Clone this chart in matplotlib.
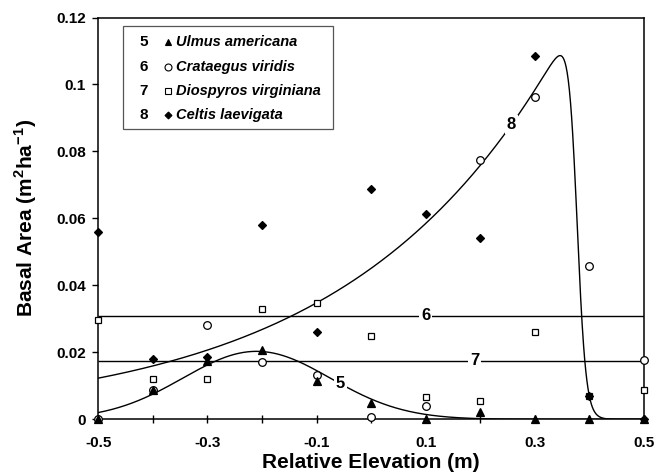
"""Basal area of four floodplain tree species along a relative elevation gradient.

Open/filled symbols are plot means; curves 5 and 8 are fitted response
curves, lines 6 and 7 are flat (no response) fits.
"""

import numpy as np
import matplotlib
matplotlib.use('Agg')
import matplotlib.pyplot as plt
from matplotlib.lines import Line2D
from matplotlib.patches import Rectangle

plt.rcParams.update({
    'font.family': ['Liberation Sans', 'DejaVu Sans'],
    'font.weight': 'bold',
    'axes.linewidth': 1.1,
    'mathtext.fontset': 'custom',
    'mathtext.rm': 'Liberation Sans:bold',
    'mathtext.bf': 'Liberation Sans:bold',
})

# Observed basal area (m2/ha) by relative elevation (m)
elevation = [-0.5, -0.4, -0.3, -0.2, -0.1, 0.0, 0.1, 0.2, 0.3, 0.4, 0.5]
ulmus = [0.0, 0.0087, 0.0175, 0.0207, 0.0114, 0.0050, 0.0, 0.0023, 0.0, 0.0, 0.0]
crataegus = [0.0, 0.0088, 0.0283, 0.0172, 0.0132, 0.0006, 0.0040, 0.0773, 0.0964, 0.0459, 0.0178]
diospyros = [0.0297, 0.0120, 0.0120, 0.0329, 0.0347, 0.0249, 0.0066, 0.0055, 0.0262, 0.0070, 0.0089]
celtis = [0.0559, 0.0180, 0.0185, 0.0580, 0.0261, 0.0689, 0.0612, 0.0541, 0.1086, 0.0070, 0.0]

# Legend entries: model number, species
model_ids = ['5', '6', '7', '8']
species = ['Ulmus americana', 'Crataegus viridis', 'Diospyros virginiana', 'Celtis laevigata']

# Fitted models
ulmus_fit = dict(peak=0.0203, center=-0.21, width=0.135)           # curve 5 (gaussian)
celtis_fit = dict(a=0.0451, k=2.6, cutoff=0.377, steep=0.008)      # curve 8 (exp with cutoff)
crataegus_flat = 0.0309                                            # line 6
diospyros_flat = 0.0175                                            # line 7

x_ticks = [-0.5, -0.3, -0.1, 0.1, 0.3, 0.5]
x_minor = [-0.4, -0.2, 0.0, 0.2, 0.4]
y_ticks = [0, 0.02, 0.04, 0.06, 0.08, 0.1, 0.12]
y_ticklabels = ['0', '0.02', '0.04', '0.06', '0.08', '0.1', '0.12']


def curve5(x):
    f = ulmus_fit
    return f['peak'] * np.exp(-0.5 * ((x - f['center']) / f['width']) ** 2)


def curve8(x):
    f = celtis_fit
    return f['a'] * np.exp(f['k'] * x) / (1 + np.exp((x - f['cutoff']) / f['steep']))


def curve_label(ax, x, y, text):
    ax.text(x, y, text, fontsize=12, fontweight='bold', ha='center', va='center',
            bbox=dict(boxstyle='square,pad=0.12', facecolor='white', edgecolor='none'),
            zorder=4)


def main():
    fig = plt.figure(figsize=(6.7, 4.76), dpi=100)
    ax = fig.add_axes([0.1467, 0.1191, 0.8145, 0.8441])

    xs = np.linspace(-0.5, 0.5, 1500)
    ax.plot(xs, curve5(xs), color='black', lw=1.0, zorder=2)
    ax.plot(xs, curve8(xs), color='black', lw=1.0, zorder=2)
    ax.hlines([crataegus_flat, diospyros_flat], -0.5, 0.5, color='black', lw=1.0, zorder=2)

    curve_label(ax, -0.056, curve5(-0.056), '5')
    curve_label(ax, 0.10, crataegus_flat, '6')
    curve_label(ax, 0.19, diospyros_flat, '7')
    curve_label(ax, 0.257, curve8(0.257), '8')

    kw = dict(linestyle='none', clip_on=False, zorder=5, markeredgecolor='black',
              markeredgewidth=0.9)
    ax.plot(elevation, diospyros, marker='s', markersize=5, markerfacecolor='white', **kw)
    ax.plot(elevation, crataegus, marker='o', markersize=5.5, markerfacecolor='white', **kw)
    ax.plot(elevation, celtis, marker='D', markersize=4, markerfacecolor='black', **kw)
    ax.plot(elevation, ulmus, marker='^', markersize=5.5, markerfacecolor='black', **kw)

    ax.set_xlim(-0.5, 0.5)
    ax.set_ylim(0, 0.12)
    ax.set_xticks(x_ticks)
    ax.set_xticklabels([f'{v:g}' for v in x_ticks])
    ax.set_xticks(x_minor, minor=True)
    ax.tick_params(axis='x', which='both', direction='inout', length=6, width=1, pad=9,
                   labelsize=11)
    ax.set_yticks(y_ticks)
    ax.set_yticklabels(y_ticklabels)
    ax.tick_params(axis='y', direction='out', length=4, width=1, pad=5, labelsize=11)

    ax.set_xlabel('Relative Elevation (m)', fontsize=15, fontweight='bold', labelpad=2)
    ax.set_ylabel('Basal Area (m$^{2}$ha$^{-1}$)', fontsize=15,
                  fontweight='bold', labelpad=12)

    # Hand-built legend: model number, symbol, species name
    ax.add_patch(Rectangle((0.0458, 0.7218), 0.3835, 0.2572, transform=ax.transAxes,
                           facecolor='white', edgecolor='#555555', lw=0.9, zorder=6))
    markers = [('^', 'black', 5), ('o', 'white', 5), ('s', 'white', 4.5), ('D', 'black', 3.5)]
    rows = [0.9383, 0.8776, 0.8178, 0.7574]
    for y, num, name, (m, fc, ms) in zip(rows, model_ids, species, markers):
        ax.text(0.0837, y, num, transform=ax.transAxes, fontsize=11, fontweight='bold',
                ha='center', va='center', zorder=7)
        ax.add_line(Line2D([0.128], [y], transform=ax.transAxes, marker=m, markersize=ms,
                           markerfacecolor=fc, markeredgecolor='black', markeredgewidth=0.8,
                           linestyle='none', zorder=7))
        ax.text(0.1423, y, name, transform=ax.transAxes, fontsize=10.5, fontweight='bold',
                fontstyle='italic', ha='left', va='center', zorder=7)

    fig.savefig('out.png', dpi=100)
    plt.close(fig)


if __name__ == '__main__':
    main()
